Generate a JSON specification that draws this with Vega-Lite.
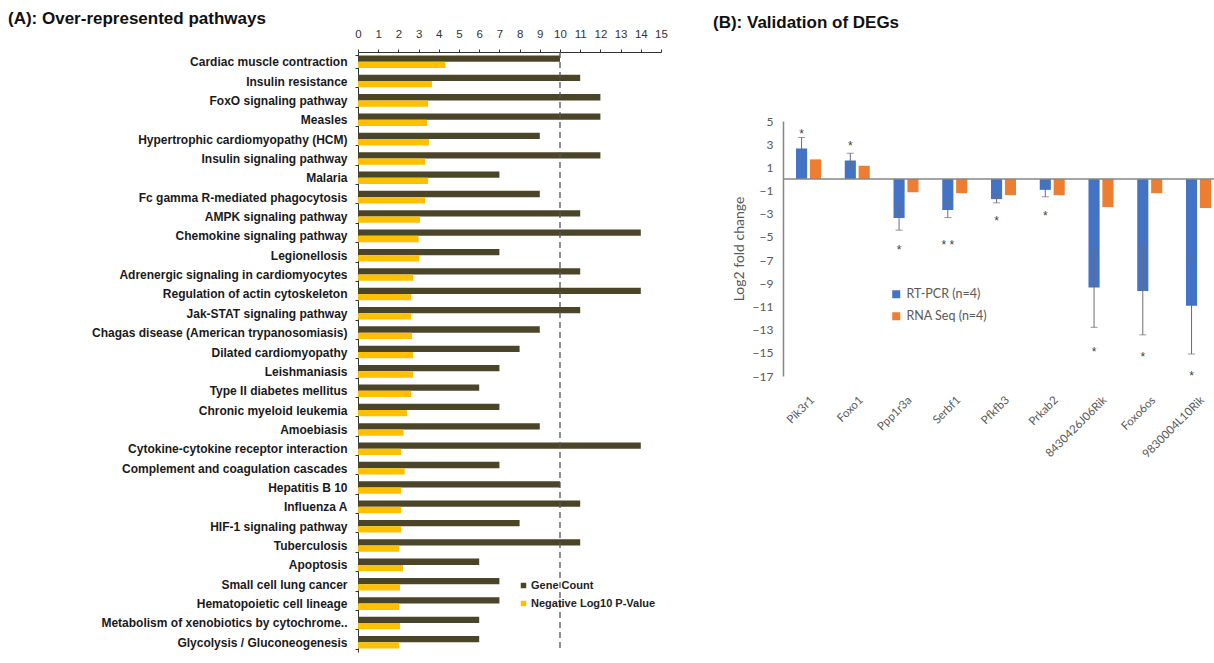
{
  "$schema": "https://vega.github.io/schema/vega-lite/v6.json",
  "padding": {"left": 8, "top": 10, "right": 0, "bottom": 0},
  "config": {"view": {"stroke": null}, "font": "Liberation Sans", "axis": {"labelOverlap": false}},
  "datasets": {
    "pathways": [
      {"p": "Cardiac muscle contraction", "s": "Gene Count", "v": 10},
      {"p": "Cardiac muscle contraction", "s": "Negative Log10 P-Value", "v": 4.33},
      {"p": "Insulin resistance", "s": "Gene Count", "v": 11},
      {"p": "Insulin resistance", "s": "Negative Log10 P-Value", "v": 3.66},
      {"p": "FoxO signaling pathway", "s": "Gene Count", "v": 12},
      {"p": "FoxO signaling pathway", "s": "Negative Log10 P-Value", "v": 3.47},
      {"p": "Measles", "s": "Gene Count", "v": 12},
      {"p": "Measles", "s": "Negative Log10 P-Value", "v": 3.42},
      {"p": "Hypertrophic cardiomyopathy (HCM)", "s": "Gene Count", "v": 9},
      {"p": "Hypertrophic cardiomyopathy (HCM)", "s": "Negative Log10 P-Value", "v": 3.51},
      {"p": "Insulin signaling pathway", "s": "Gene Count", "v": 12},
      {"p": "Insulin signaling pathway", "s": "Negative Log10 P-Value", "v": 3.32},
      {"p": "Malaria", "s": "Gene Count", "v": 7},
      {"p": "Malaria", "s": "Negative Log10 P-Value", "v": 3.47},
      {"p": "Fc gamma R-mediated phagocytosis", "s": "Gene Count", "v": 9},
      {"p": "Fc gamma R-mediated phagocytosis", "s": "Negative Log10 P-Value", "v": 3.32},
      {"p": "AMPK signaling pathway", "s": "Gene Count", "v": 11},
      {"p": "AMPK signaling pathway", "s": "Negative Log10 P-Value", "v": 3.07},
      {"p": "Chemokine signaling pathway", "s": "Gene Count", "v": 14},
      {"p": "Chemokine signaling pathway", "s": "Negative Log10 P-Value", "v": 3.0},
      {"p": "Legionellosis", "s": "Gene Count", "v": 7},
      {"p": "Legionellosis", "s": "Negative Log10 P-Value", "v": 3.03},
      {"p": "Adrenergic signaling in cardiomyocytes", "s": "Gene Count", "v": 11},
      {"p": "Adrenergic signaling in cardiomyocytes", "s": "Negative Log10 P-Value", "v": 2.73},
      {"p": "Regulation of actin cytoskeleton", "s": "Gene Count", "v": 14},
      {"p": "Regulation of actin cytoskeleton", "s": "Negative Log10 P-Value", "v": 2.63},
      {"p": "Jak-STAT signaling pathway", "s": "Gene Count", "v": 11},
      {"p": "Jak-STAT signaling pathway", "s": "Negative Log10 P-Value", "v": 2.63},
      {"p": "Chagas disease (American trypanosomiasis)", "s": "Gene Count", "v": 9},
      {"p": "Chagas disease (American trypanosomiasis)", "s": "Negative Log10 P-Value", "v": 2.68},
      {"p": "Dilated cardiomyopathy", "s": "Gene Count", "v": 8},
      {"p": "Dilated cardiomyopathy", "s": "Negative Log10 P-Value", "v": 2.73},
      {"p": "Leishmaniasis", "s": "Gene Count", "v": 7},
      {"p": "Leishmaniasis", "s": "Negative Log10 P-Value", "v": 2.73},
      {"p": "Type II diabetes mellitus", "s": "Gene Count", "v": 6},
      {"p": "Type II diabetes mellitus", "s": "Negative Log10 P-Value", "v": 2.63},
      {"p": "Chronic myeloid leukemia", "s": "Gene Count", "v": 7},
      {"p": "Chronic myeloid leukemia", "s": "Negative Log10 P-Value", "v": 2.43},
      {"p": "Amoebiasis", "s": "Gene Count", "v": 9},
      {"p": "Amoebiasis", "s": "Negative Log10 P-Value", "v": 2.26},
      {"p": "Cytokine-cytokine receptor interaction", "s": "Gene Count", "v": 14},
      {"p": "Cytokine-cytokine receptor interaction", "s": "Negative Log10 P-Value", "v": 2.13},
      {"p": "Complement and coagulation cascades", "s": "Gene Count", "v": 7},
      {"p": "Complement and coagulation cascades", "s": "Negative Log10 P-Value", "v": 2.31},
      {"p": "Hepatitis B 10", "s": "Gene Count", "v": 10},
      {"p": "Hepatitis B 10", "s": "Negative Log10 P-Value", "v": 2.13},
      {"p": "Influenza A", "s": "Gene Count", "v": 11},
      {"p": "Influenza A", "s": "Negative Log10 P-Value", "v": 2.13},
      {"p": "HIF-1 signaling pathway", "s": "Gene Count", "v": 8},
      {"p": "HIF-1 signaling pathway", "s": "Negative Log10 P-Value", "v": 2.13},
      {"p": "Tuberculosis", "s": "Gene Count", "v": 11},
      {"p": "Tuberculosis", "s": "Negative Log10 P-Value", "v": 2.03},
      {"p": "Apoptosis", "s": "Gene Count", "v": 6},
      {"p": "Apoptosis", "s": "Negative Log10 P-Value", "v": 2.23},
      {"p": "Small cell lung cancer", "s": "Gene Count", "v": 7},
      {"p": "Small cell lung cancer", "s": "Negative Log10 P-Value", "v": 2.08},
      {"p": "Hematopoietic cell lineage", "s": "Gene Count", "v": 7},
      {"p": "Hematopoietic cell lineage", "s": "Negative Log10 P-Value", "v": 2.03},
      {"p": "Metabolism of xenobiotics by cytochrome..", "s": "Gene Count", "v": 6},
      {"p": "Metabolism of xenobiotics by cytochrome..", "s": "Negative Log10 P-Value", "v": 2.08},
      {"p": "Glycolysis / Gluconeogenesis", "s": "Gene Count", "v": 6},
      {"p": "Glycolysis / Gluconeogenesis", "s": "Negative Log10 P-Value", "v": 2.03}
    ],
    "cutoff": [{"c": 10}],
    "degs": [
      {"g": "Pik3r1", "m": "RT-PCR (n=4)", "val": 2.63, "lo": 1.68, "hi": 3.58},
      {"g": "Pik3r1", "m": "RNA Seq (n=4)", "val": 1.69},
      {"g": "Foxo1", "m": "RT-PCR (n=4)", "val": 1.6, "lo": 0.98, "hi": 2.22},
      {"g": "Foxo1", "m": "RNA Seq (n=4)", "val": 1.14},
      {"g": "Ppp1r3a", "m": "RT-PCR (n=4)", "val": -3.37, "lo": -4.42, "hi": -2.32},
      {"g": "Ppp1r3a", "m": "RNA Seq (n=4)", "val": -1.14},
      {"g": "Serbf1", "m": "RT-PCR (n=4)", "val": -2.68, "lo": -3.33, "hi": -2.03},
      {"g": "Serbf1", "m": "RNA Seq (n=4)", "val": -1.23},
      {"g": "Pfkfb3", "m": "RT-PCR (n=4)", "val": -1.74, "lo": -2.06, "hi": -1.42},
      {"g": "Pfkfb3", "m": "RNA Seq (n=4)", "val": -1.4},
      {"g": "Prkab2", "m": "RT-PCR (n=4)", "val": -0.94, "lo": -1.54, "hi": -0.34},
      {"g": "Prkab2", "m": "RNA Seq (n=4)", "val": -1.4},
      {"g": "8430426J06Rik", "m": "RT-PCR (n=4)", "val": -9.37, "lo": -12.8, "hi": -6.1},
      {"g": "8430426J06Rik", "m": "RNA Seq (n=4)", "val": -2.43},
      {"g": "Foxo6os", "m": "RT-PCR (n=4)", "val": -9.66, "lo": -13.45, "hi": -5.9},
      {"g": "Foxo6os", "m": "RNA Seq (n=4)", "val": -1.23},
      {"g": "9830004L10Rik", "m": "RT-PCR (n=4)", "val": -10.94, "lo": -15.1, "hi": -6.85},
      {"g": "9830004L10Rik", "m": "RNA Seq (n=4)", "val": -2.51}
    ],
    "stars": [
      {"g": "Pik3r1", "m": "RT-PCR (n=4)", "sy": 4.1, "t": "*"},
      {"g": "Foxo1", "m": "RT-PCR (n=4)", "sy": 3.1, "t": "*"},
      {"g": "Ppp1r3a", "m": "RT-PCR (n=4)", "sy": -5.9, "t": "*"},
      {"g": "Serbf1", "m": "RT-PCR (n=4)", "sy": -5.45, "t": "* *"},
      {"g": "Pfkfb3", "m": "RT-PCR (n=4)", "sy": -3.4, "t": "*"},
      {"g": "Prkab2", "m": "RT-PCR (n=4)", "sy": -2.95, "t": "*"},
      {"g": "8430426J06Rik", "m": "RT-PCR (n=4)", "sy": -14.7, "t": "*"},
      {"g": "Foxo6os", "m": "RT-PCR (n=4)", "sy": -15.1, "t": "*"},
      {"g": "9830004L10Rik", "m": "RT-PCR (n=4)", "sy": -16.7, "t": "*"}
    ],
    "zero": [{"z": 0}]
  },
  "spacing": 45,
  "resolve": {"scale": {"color": "independent"}, "legend": {"color": "independent"}},
  "hconcat": [
    {
      "width": 303,
      "height": 600,
      "title": {"text": "(A): Over-represented pathways", "anchor": "start", "frame": "group", "dx": -350, "offset": 0, "fontSize": 17, "fontWeight": "bold", "font": "Liberation Sans", "color": "#111111"},
      "layer": [
        {
          "data": {"name": "pathways"},
          "mark": {"type": "bar"},
          "encoding": {
            "y": {"field": "p", "type": "nominal", "sort": null,
              "scale": {"paddingInner": 0.35, "paddingOuter": 0.175},
              "axis": {"title": null, "labelFontWeight": "bold", "labelFontSize": 12, "labelColor": "#1a1a1a", "labelPadding": 8, "tickBand": "extent", "tickSize": 3, "domainColor": "#333333", "tickColor": "#333333", "labelLimit": 400, "labelOverlap": false}},
            "x": {"field": "v", "type": "quantitative",
              "scale": {"domain": [0, 15], "nice": false},
              "axis": {"orient": "top", "title": null, "values": [0,1,2,3,4,5,6,7,8,9,10,11,12,13,14,15], "tickCount": 16, "grid": false, "tickSize": 3, "labelPadding": 10, "labelFontSize": 11.5, "labelColor": "#333333", "domainColor": "#333333", "tickColor": "#333333", "labelFont": "Liberation Sans", "labelFlush": false, "labelOverlap": false, "labelSeparation": 0}},
            "yOffset": {"field": "s", "type": "nominal", "sort": ["Gene Count", "Negative Log10 P-Value"], "scale": {"paddingInner": 0, "paddingOuter": 0}},
            "color": {"field": "s", "type": "nominal",
              "scale": {"domain": ["Gene Count", "Negative Log10 P-Value"], "range": ["#4a4528", "#FFC000"]},
              "legend": {"orient": "none", "legendX": 160, "legendY": 528, "title": null, "symbolType": "square", "symbolSize": 30, "labelFontWeight": "bold", "labelFontSize": 11, "labelColor": "#222222", "rowPadding": 6, "symbolStrokeWidth": 0, "labelOffset": 2}}
          }
        },
        {
          "data": {"name": "cutoff"},
          "mark": {"type": "rule", "strokeDash": [6, 4], "color": "#555555", "strokeWidth": 1.3},
          "encoding": {"x": {"field": "c", "type": "quantitative",
              "axis": {"orient": "top", "title": null, "values": [0,1,2,3,4,5,6,7,8,9,10,11,12,13,14,15], "tickCount": 16, "grid": false, "tickSize": 3, "labelPadding": 10, "labelFontSize": 11.5, "labelColor": "#333333", "domainColor": "#333333", "tickColor": "#333333", "labelFont": "Liberation Sans", "labelFlush": false, "labelOverlap": false, "labelSeparation": 0}}}
        }
      ]
    },
    {
      "width": 441,
      "height": 324,
      "title": {"text": "(B): Validation of DEGs", "anchor": "start", "frame": "group", "dx": -70, "offset": 20, "fontSize": 17, "fontWeight": "bold", "font": "Liberation Sans", "color": "#111111"},
      "layer": [
        {
          "data": {"name": "degs"},
          "mark": {"type": "bar"},
          "encoding": {
            "x": {"field": "g", "type": "nominal", "sort": null,
              "scale": {"paddingInner": 0.487, "paddingOuter": 0.267},
              "axis": {"title": null, "labelAngle": -45, "domain": false, "ticks": false, "labelFontSize": 11.5, "labelColor": "#595959", "labelPadding": 18, "labelFont": "Lato"}},
            "xOffset": {"field": "m", "type": "nominal", "scale": {"domain": ["RT-PCR (n=4)", "RNA Seq (n=4)"], "paddingInner": 0.2, "paddingOuter": 0}},
            "y": {"field": "val", "type": "quantitative",
              "scale": {"domain": [-17, 5], "nice": false, "range": [324, 69]},
              "axis": {"title": "Log2 fold change", "values": [5,3,1,-1,-3,-5,-7,-9,-11,-13,-15,-17], "tickCount": 12, "grid": false, "ticks": false, "domainColor": "#868686", "domainWidth": 1.5, "labelColor": "#595959", "labelFontSize": 12, "labelFont": "Lato", "labelPadding": 10, "labelOverlap": false, "labelSeparation": 0, "labelFlush": false, "titleFont": "Lato", "titleFontSize": 14, "titleFontWeight": "normal", "titleColor": "#595959", "titlePadding": 6}},
            "color": {"field": "m", "type": "nominal",
              "scale": {"domain": ["RT-PCR (n=4)", "RNA Seq (n=4)"], "range": ["#4472C4", "#ED7D31"]},
              "legend": {"orient": "none", "legendX": 107, "legendY": 236, "title": null, "symbolType": "square", "symbolSize": 64, "symbolStrokeWidth": 0, "labelFont": "Lato", "labelFontSize": 12.5, "labelColor": "#595959", "rowPadding": 9}}
          }
        },
        {
          "data": {"name": "zero"},
          "mark": {"type": "rule", "color": "#868686", "strokeWidth": 1.5},
          "encoding": {"y": {"field": "z", "type": "quantitative"}}
        },
        {
          "data": {"name": "degs"},
          "transform": [{"filter": "datum.m === 'RT-PCR (n=4)'"}],
          "mark": {"type": "rule", "color": "#6d6d6d", "strokeWidth": 1},
          "encoding": {
            "x": {"field": "g", "type": "nominal", "sort": null},
            "xOffset": {"field": "m", "type": "nominal"},
            "y": {"field": "lo", "type": "quantitative"},
            "y2": {"field": "hi"}
          }
        },
        {
          "data": {"name": "degs"},
          "transform": [{"filter": "datum.m === 'RT-PCR (n=4)'"}],
          "mark": {"type": "tick", "color": "#6d6d6d", "size": 7, "thickness": 1},
          "encoding": {
            "x": {"field": "g", "type": "nominal", "sort": null},
            "xOffset": {"field": "m", "type": "nominal"},
            "y": {"field": "lo", "type": "quantitative"}
          }
        },
        {
          "data": {"name": "degs"},
          "transform": [{"filter": "datum.m === 'RT-PCR (n=4)'"}],
          "mark": {"type": "tick", "color": "#6d6d6d", "size": 7, "thickness": 1},
          "encoding": {
            "x": {"field": "g", "type": "nominal", "sort": null},
            "xOffset": {"field": "m", "type": "nominal"},
            "y": {"field": "hi", "type": "quantitative"}
          }
        },
        {
          "data": {"name": "stars"},
          "mark": {"type": "text", "fontSize": 12, "color": "#404040", "baseline": "middle", "dy": 3, "font": "Liberation Sans"},
          "encoding": {
            "x": {"field": "g", "type": "nominal", "sort": null},
            "xOffset": {"field": "m", "type": "nominal"},
            "y": {"field": "sy", "type": "quantitative"},
            "text": {"field": "t"}
          }
        }
      ]
    }
  ]
}
